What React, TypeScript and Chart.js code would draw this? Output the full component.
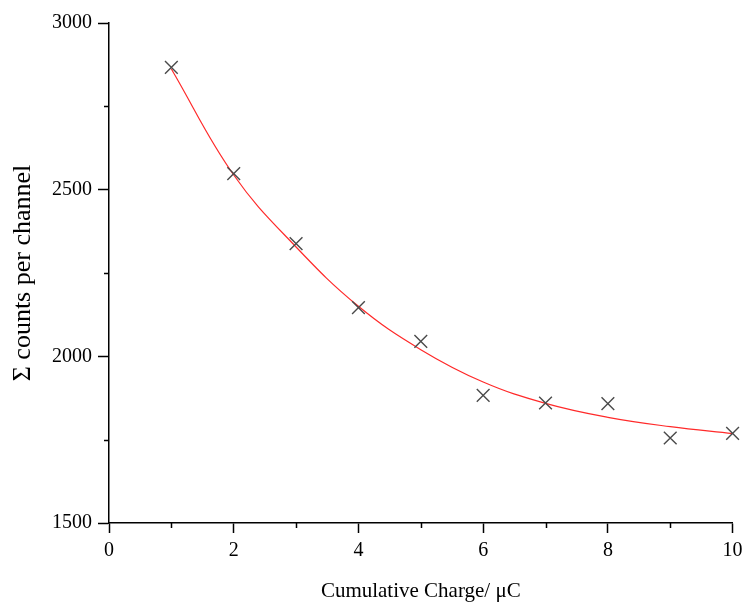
import React, { useEffect, useRef } from "react";
import { Chart, registerables } from "chart.js";

Chart.register(...registerables);

const xValues = [1, 2, 3, 4, 5, 6, 7, 8, 9, 10];
const countValues = [2867, 2548, 2338, 2146, 2045, 1883, 1860, 1858, 1755, 1769];
const fitValues = [2862, 2544, 2328, 2150, 2020, 1923, 1859, 1817, 1789, 1768];
const xMinorTicks = [1, 3, 5, 7, 9];
const yMinorTicks = [1750, 2250, 2750];

const FONT = "'Liberation Serif', 'Times New Roman', serif";

const minorTickPlugin = {
  id: "minorTicks",
  afterDraw(chart: any) {
    const { ctx, chartArea, scales } = chart;
    ctx.save();
    ctx.strokeStyle = "#000";
    ctx.lineWidth = 1.5;
    ctx.beginPath();
    for (const v of xMinorTicks) {
      const px = Math.round(scales.x.getPixelForValue(v)) + 0.5;
      ctx.moveTo(px, chartArea.bottom);
      ctx.lineTo(px, chartArea.bottom + 5);
    }
    for (const v of yMinorTicks) {
      const py = Math.round(scales.y.getPixelForValue(v)) + 0.5;
      ctx.moveTo(chartArea.left, py);
      ctx.lineTo(chartArea.left - 5, py);
    }
    ctx.stroke();
    ctx.restore();
  },
};

export default function App() {
  const ref = useRef<HTMLCanvasElement | null>(null);

  useEffect(() => {
    document.body.style.margin = "0";
    const canvas = ref.current;
    if (!canvas) return;
    const chart = new Chart(canvas, {
      type: "scatter",
      data: {
        datasets: [
          {
            type: "line",
            label: "fit",
            data: xValues.map((x, i) => ({ x, y: fitValues[i] })),
            borderColor: "#ff2a2a",
            borderWidth: 1.2,
            pointRadius: 0,
            fill: false,
            tension: 0.4,
            order: 2,
          } as any,
          {
            type: "scatter",
            label: "counts",
            data: xValues.map((x, i) => ({ x, y: countValues[i] })),
            pointStyle: "crossRot",
            pointRadius: 9,
            borderColor: "#4a4a4a",
            backgroundColor: "#4a4a4a",
            pointBorderWidth: 1.4,
            clip: false,
            order: 1,
          } as any,
        ],
      },
      options: {
        animation: false,
        responsive: false,
        devicePixelRatio: 1,
        layout: { padding: { top: 23, right: 9, left: 0, bottom: 0 } },
        plugins: {
          legend: { display: false },
          tooltip: { enabled: false },
        },
        scales: {
          x: {
            type: "linear",
            min: 0,
            max: 10,
            ticks: {
              stepSize: 2,
              color: "#000",
              font: { family: FONT, size: 20 },
              padding: 6,
              callback: (v: any) => String(v),
            },
            grid: {
              display: true,
              drawOnChartArea: false,
              drawTicks: true,
              tickLength: 10,
              tickColor: "#000",
              tickWidth: 1.5,
            },
            border: { display: true, color: "#000", width: 1.5 },
            title: {
              display: true,
              text: "Cumulative Charge/ μC",
              color: "#000",
              font: { family: FONT, size: 21 },
              padding: { top: 0, bottom: 4 },
            },
            afterFit(scale: any) {
              scale.height = 85;
              scale.paddingLeft = 0;
              scale.paddingRight = 0;
            },
          },
          y: {
            type: "linear",
            min: 1500,
            max: 3000,
            ticks: {
              stepSize: 500,
              color: "#000",
              font: { family: FONT, size: 20 },
              padding: 6,
              callback: (v: any) => String(v),
            },
            grid: {
              display: true,
              drawOnChartArea: false,
              drawTicks: true,
              tickLength: 11,
              tickColor: "#000",
              tickWidth: 1.5,
            },
            border: { display: true, color: "#000", width: 1.5 },
            title: {
              display: true,
              text: "Σ counts per channel",
              color: "#000",
              font: { family: FONT, size: 26 },
              padding: { top: 8, bottom: 0 },
            },
            afterFit(scale: any) {
              scale.width = 109;
              scale.paddingTop = 0;
              scale.paddingBottom = 0;
            },
          },
        },
      } as any,
      plugins: [minorTickPlugin],
    });
    return () => chart.destroy();
  }, []);

  return (
    <div style={{ width: 743, height: 608, background: "#fff" }}>
      <canvas ref={ref} width={743} height={608} style={{ display: "block" }} />
    </div>
  );
}
